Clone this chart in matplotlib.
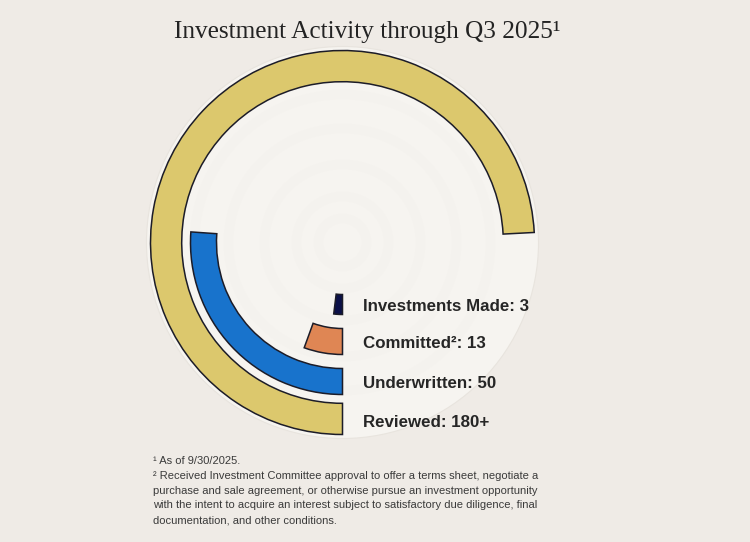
import numpy as np
import matplotlib.pyplot as plt

# ring data, innermost first
stages = ["Investments Made", "Committed\u00b2", "Underwritten", "Reviewed"]
counts = ["3", "13", "50", "180+"]
# drawn sweep of each ring in degrees (not to scale)
sweep_deg = [7, 20, 94, 267]

colors = ["#0b1048", "#df8654", "#1873cc", "#dcc86d"]
thick = [0.5, 0.65, 0.65, 0.78]      # ring thickness, radial units
bg = "#efebe6"
disc = "#f6f4f0"

fig = plt.figure(figsize=(7.5, 5.42), dpi=100, facecolor=bg)

# polar axes: centre at (342.5, 242.5) px, radius 196 px
W, H = 750, 542
cx, cy, R = 342.5, 242.5, 196
ax = fig.add_axes([(cx - R) / W, (H - cy - R) / H, 2 * R / W, 2 * R / H],
                  projection="polar", facecolor=disc)
ax.set_theta_zero_location("S")
ax.set_theta_direction(-1)
ax.set_ylim(0, R / 40)
ax.set_xticks([])
ax.set_yticks([])
ax.spines["polar"].set_color("#e8e4de")
ax.spines["polar"].set_linewidth(0.8)

# very faint concentric rings in the disc
tt = np.linspace(0, 2 * np.pi, 400)
for rr in [0.6, 1.15, 1.95, 2.85, 3.7]:
    ax.plot(tt, np.full_like(tt, rr), color="#efece7", lw=7, alpha=0.2,
            solid_capstyle="butt", zorder=1)

for i, (name, val, sw) in enumerate(zip(stages, counts, sweep_deg)):
    outer = i + 1.8
    ax.bar(x=0, height=thick[i], width=np.radians(sw), bottom=outer - thick[i],
           align="edge", color=colors[i], edgecolor="#1c1c28", linewidth=1.1,
           zorder=3)
    ax.annotate(f"{name}: {val}", xy=(0, outer - thick[i] / 2),
                xytext=(20.5, -6.5 - 1.5 * (i == 3)), textcoords="offset pixels",
                ha="left", va="baseline", fontsize=12.2, fontweight="bold",
                family="Liberation Sans", color="#262626", zorder=4,
                annotation_clip=False)

fig.text(174 / W, 1 - 38 / H, "Investment Activity through Q3 2025\u00b9",
         ha="left", va="baseline", fontsize=18.2, family="Liberation Serif",
         color="#232323")

notes = [
    "\u00b9 As of 9/30/2025.",
    "\u00b2 Received Investment Committee approval to offer a terms sheet, negotiate a",
    "purchase and sale agreement, or otherwise pursue an investment opportunity",
    "with the intent to acquire an interest subject to satisfactory due diligence, final",
    "documentation, and other conditions.",
]
for k, line in enumerate(notes):
    fig.text(153 / W, 1 - (464 + 14.8 * k) / H, line, ha="left", va="baseline",
             fontsize=8.0, family="Liberation Sans", color="#3a3a3a")

fig.savefig("out.png", dpi=100, facecolor=bg)
